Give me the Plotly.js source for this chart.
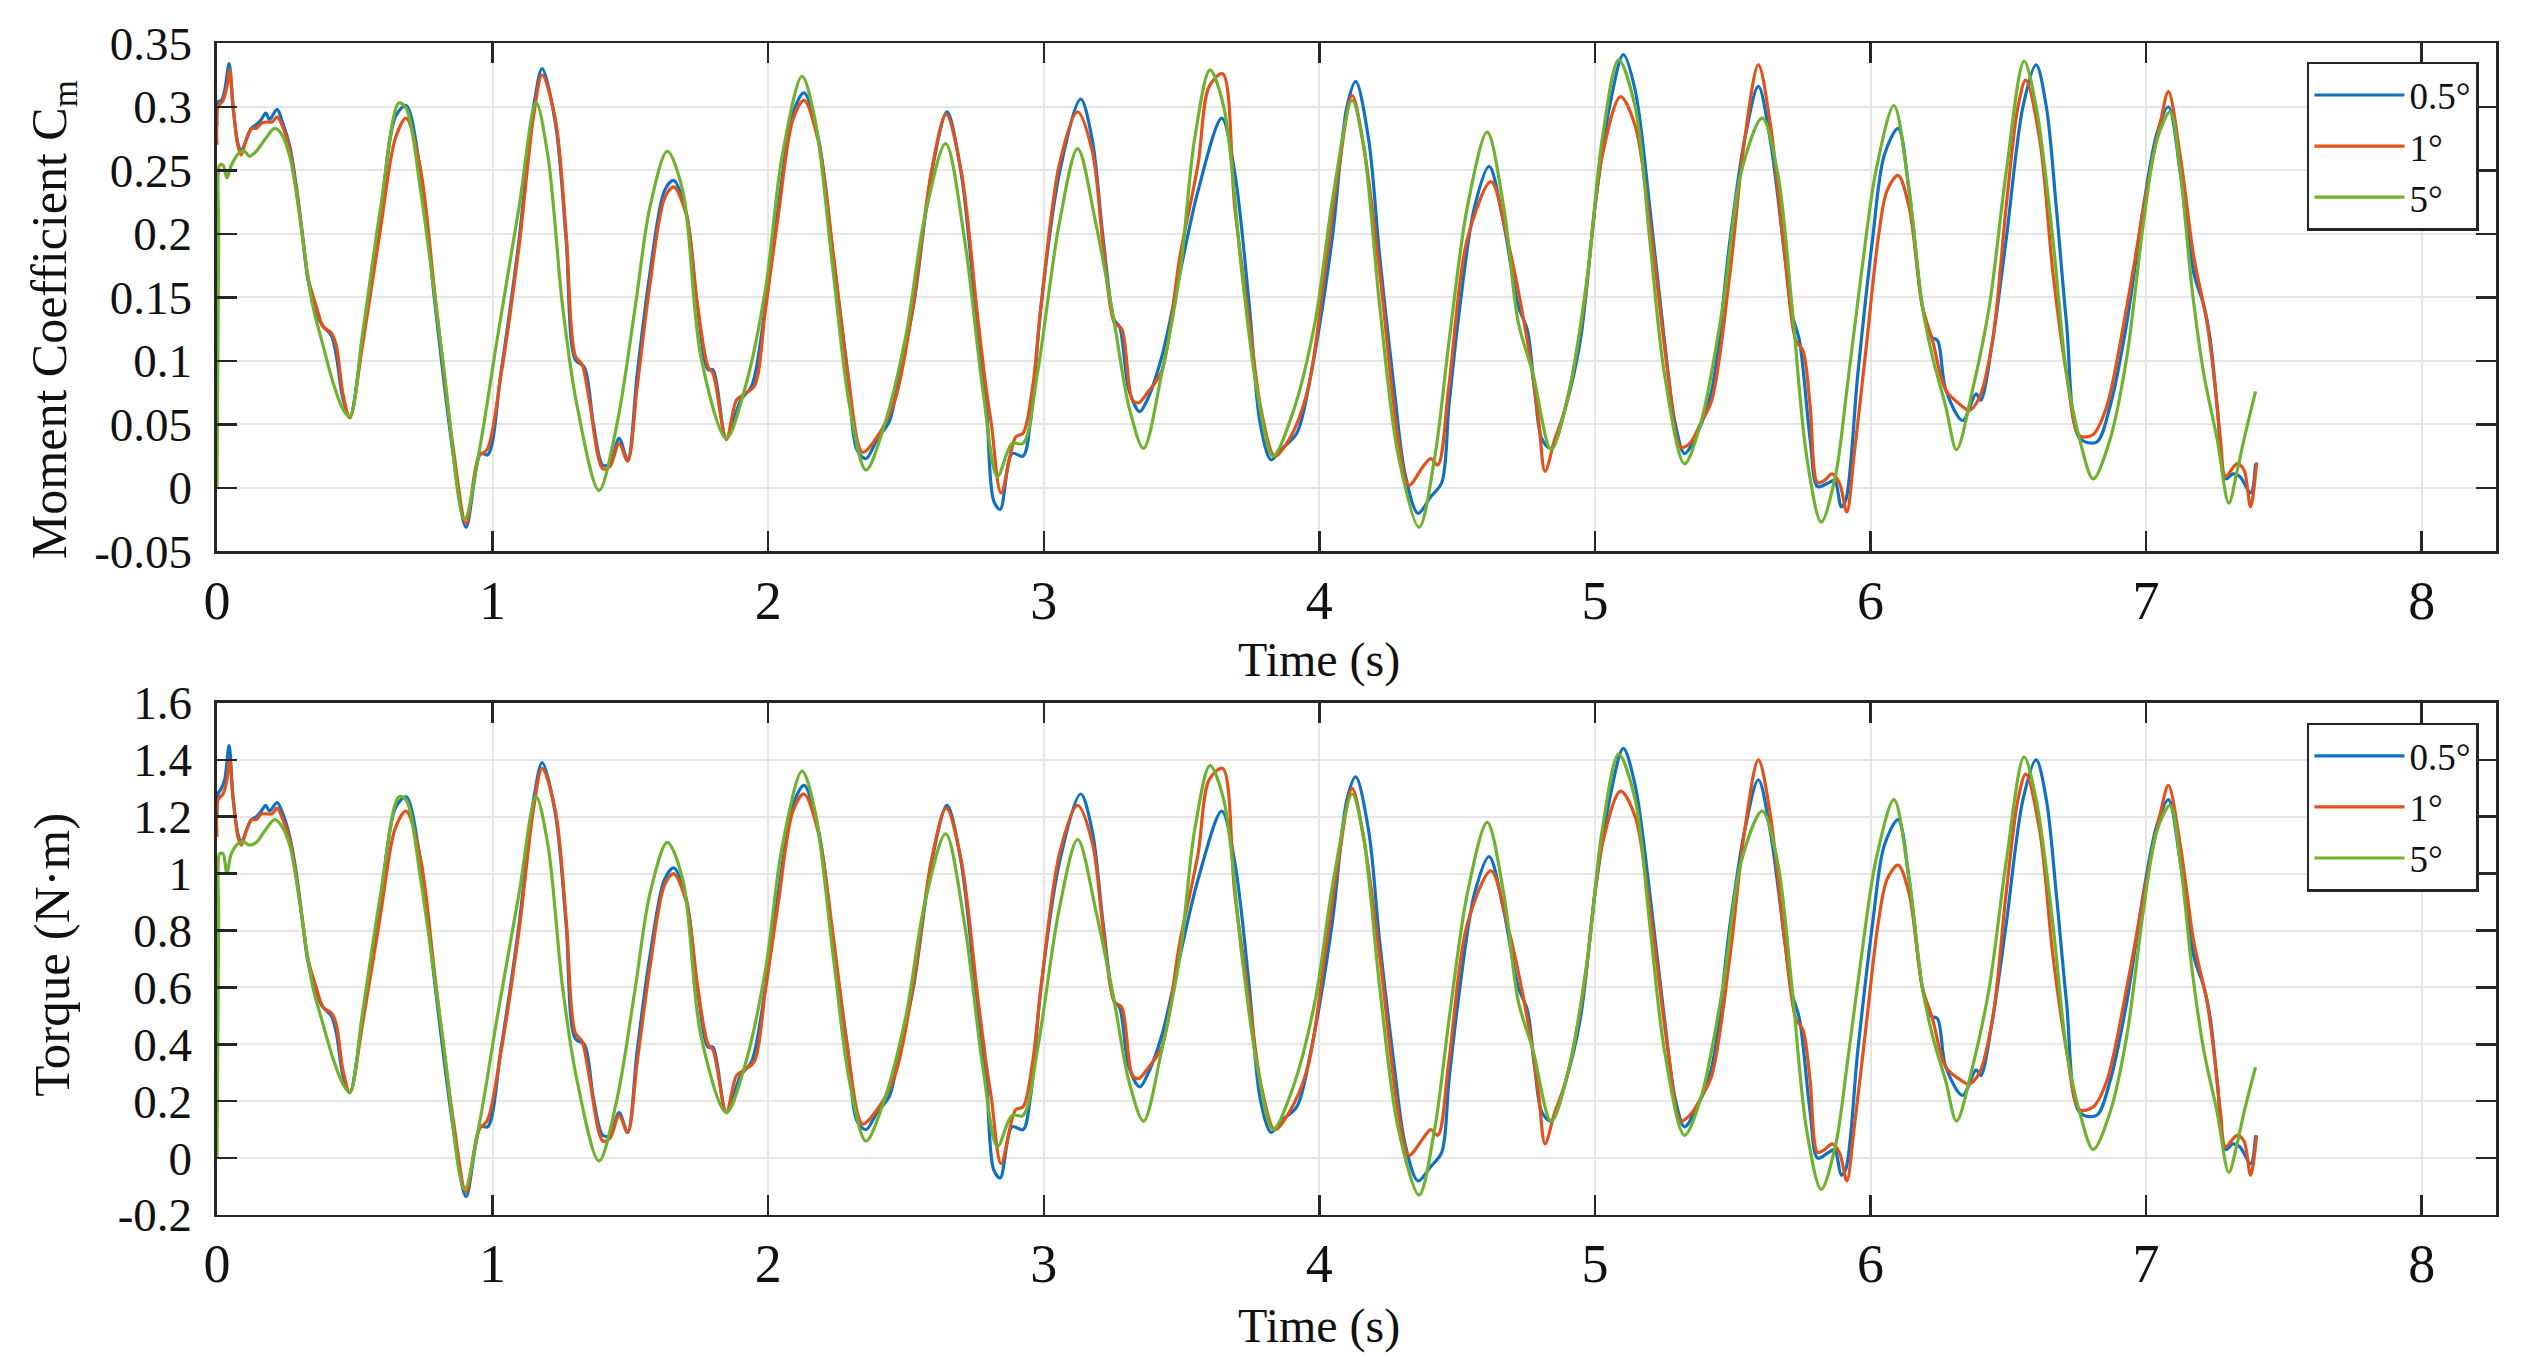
<!DOCTYPE html>
<html>
<head>
<meta charset="utf-8">
<script src="https://cdn.plot.ly/plotly-3.0.1.min.js"></script>
<style>
  html, body { margin: 0; padding: 0; background: #fff; }
  #chart { width: 2529px; height: 1356px; }
</style>
</head>
<body>
<div id="chart"></div>
<script>
// series labels (pitch amplitude)
const seriesNames = ["0.5°", "1°", "5°"];
const seriesColors = ["#1071C2", "#E2521D", "#6EB22F"];

// 0.5 deg
const tBlue = [
  0, 0.004, 0.016, 0.028, 0.044, 0.058, 0.076, 0.088, 0.106, 0.125,
  0.143, 0.161, 0.177, 0.191, 0.218, 0.239, 0.264, 0.288, 0.312, 0.330,
  0.360, 0.385, 0.415, 0.433, 0.457, 0.482, 0.528, 0.594, 0.647, 0.686,
  0.739, 0.792, 0.858, 0.904, 0.957, 0.983, 1.030, 1.096, 1.149, 1.180,
  1.228, 1.267, 1.300, 1.333, 1.366, 1.400, 1.426, 1.459, 1.490, 1.525,
  1.571, 1.624, 1.657, 1.703, 1.743, 1.782, 1.800, 1.848, 1.900, 1.940,
  1.990, 2.037, 2.090, 2.130, 2.183, 2.236, 2.289, 2.322, 2.355, 2.395,
  2.441, 2.474, 2.527, 2.593, 2.649, 2.700, 2.752, 2.792, 2.818, 2.842,
  2.885, 2.925, 2.951, 2.990, 3.057, 3.134, 3.176, 3.216, 3.256, 3.275,
  3.309, 3.348, 3.375, 3.428, 3.494, 3.560, 3.646, 3.693, 3.746, 3.785,
  3.825, 3.860, 3.918, 3.970, 4.046, 4.100, 4.132, 4.179, 4.219, 4.272,
  4.311, 4.358, 4.404, 4.444, 4.470, 4.510, 4.563, 4.616, 4.669, 4.722,
  4.755, 4.781, 4.808, 4.841, 4.894, 4.947, 5.000, 5.053, 5.103, 5.146,
  5.199, 5.252, 5.291, 5.325, 5.371, 5.424, 5.490, 5.543, 5.593, 5.636,
  5.689, 5.715, 5.742, 5.781, 5.808, 5.848, 5.870, 5.894, 5.910, 5.954,
  6.007, 6.050, 6.100, 6.140, 6.188, 6.219, 6.243, 6.273, 6.334, 6.383,
  6.400, 6.443, 6.492, 6.553, 6.601, 6.638, 6.674, 6.711, 6.759, 6.820,
  6.869, 6.930, 6.990, 7.039, 7.081, 7.124, 7.173, 7.210, 7.233, 7.258,
  7.288, 7.315, 7.340, 7.379, 7.397
];
const cmBlue = [
  0.285, 0.304, 0.305, 0.313, 0.334, 0.300, 0.271, 0.265, 0.274, 0.283,
  0.286, 0.290, 0.295, 0.290, 0.298, 0.287, 0.269, 0.237, 0.196, 0.164,
  0.138, 0.127, 0.120, 0.104, 0.070, 0.056, 0.116, 0.216, 0.292, 0.301,
  0.248, 0.143, 0.025, -0.031, 0.027, 0.026, 0.090, 0.195, 0.300, 0.330,
  0.287, 0.195, 0.101, 0.095, 0.050, 0.018, 0.019, 0.039, 0.022, 0.090,
  0.169, 0.234, 0.242, 0.216, 0.143, 0.093, 0.093, 0.039, 0.069, 0.080,
  0.143, 0.221, 0.295, 0.311, 0.274, 0.182, 0.090, 0.030, 0.023, 0.038,
  0.053, 0.088, 0.143, 0.248, 0.296, 0.248, 0.143, 0.064, -0.010, -0.017,
  0.027, 0.025, 0.051, 0.143, 0.248, 0.306, 0.274, 0.195, 0.132, 0.127,
  0.077, 0.060, 0.069, 0.103, 0.169, 0.234, 0.291, 0.248, 0.143, 0.051,
  0.022, 0.030, 0.043, 0.090, 0.195, 0.300, 0.320, 0.274, 0.182, 0.077,
  0.011, -0.020, -0.007, 0.004, 0.064, 0.143, 0.221, 0.253, 0.208, 0.143,
  0.124, 0.077, 0.038, 0.031, 0.064, 0.116, 0.221, 0.300, 0.341, 0.313,
  0.221, 0.116, 0.051, 0.027, 0.043, 0.077, 0.195, 0.274, 0.316, 0.274,
  0.182, 0.137, 0.116, 0.038, 0.001, 0.004, 0.006, -0.015, -0.010, 0.090,
  0.195, 0.262, 0.283, 0.234, 0.143, 0.119, 0.116, 0.077, 0.053, 0.074,
  0.069, 0.116, 0.195, 0.300, 0.333, 0.300, 0.221, 0.130, 0.039, 0.036,
  0.064, 0.130, 0.221, 0.279, 0.300, 0.248, 0.169, 0.143, 0.116, 0.064,
  0.007, 0.011, 0.009, -0.004, 0.019
];
const tqBlue = [
  1.20, 1.28, 1.30, 1.33, 1.45, 1.27, 1.14, 1.11, 1.15, 1.19,
  1.20, 1.22, 1.24, 1.22, 1.25, 1.21, 1.13, 1.00, 0.82, 0.69,
  0.58, 0.53, 0.50, 0.44, 0.29, 0.23, 0.49, 0.91, 1.23, 1.27,
  1.04, 0.60, 0.10, -0.135, 0.11, 0.11, 0.38, 0.82, 1.26, 1.39,
  1.21, 0.82, 0.42, 0.40, 0.21, 0.08, 0.08, 0.16, 0.09, 0.38,
  0.71, 0.98, 1.02, 0.91, 0.60, 0.39, 0.39, 0.16, 0.29, 0.34,
  0.60, 0.93, 1.24, 1.31, 1.15, 0.76, 0.38, 0.13, 0.10, 0.16,
  0.22, 0.37, 0.60, 1.04, 1.24, 1.04, 0.60, 0.27, -0.04, -0.07,
  0.11, 0.10, 0.21, 0.60, 1.04, 1.28, 1.15, 0.82, 0.55, 0.53,
  0.32, 0.25, 0.29, 0.43, 0.71, 0.98, 1.22, 1.04, 0.60, 0.21,
  0.09, 0.13, 0.18, 0.38, 0.82, 1.26, 1.34, 1.15, 0.76, 0.32,
  0.05, -0.08, -0.03, 0.02, 0.27, 0.60, 0.93, 1.06, 0.87, 0.60,
  0.52, 0.32, 0.16, 0.13, 0.27, 0.49, 0.93, 1.26, 1.44, 1.31,
  0.93, 0.49, 0.21, 0.11, 0.18, 0.32, 0.82, 1.15, 1.33, 1.15,
  0.76, 0.58, 0.49, 0.16, 0.00, 0.02, 0.03, -0.06, -0.04, 0.38,
  0.82, 1.10, 1.19, 0.98, 0.60, 0.50, 0.49, 0.32, 0.22, 0.31,
  0.29, 0.49, 0.82, 1.26, 1.40, 1.26, 0.93, 0.55, 0.16, 0.15,
  0.27, 0.55, 0.93, 1.17, 1.26, 1.04, 0.71, 0.60, 0.49, 0.27,
  0.03, 0.05, 0.04, -0.02, 0.08
];

// 1 deg
const tRed = [
  0, 0.004, 0.022, 0.036, 0.046, 0.058, 0.076, 0.088, 0.106, 0.125,
  0.143, 0.161, 0.180, 0.200, 0.218, 0.239, 0.264, 0.288, 0.312, 0.330,
  0.360, 0.385, 0.415, 0.433, 0.457, 0.482, 0.528, 0.594, 0.647, 0.686,
  0.739, 0.792, 0.858, 0.904, 0.950, 0.980, 1.030, 1.096, 1.149, 1.180,
  1.228, 1.267, 1.300, 1.325, 1.350, 1.400, 1.426, 1.459, 1.490, 1.525,
  1.571, 1.624, 1.657, 1.703, 1.743, 1.782, 1.800, 1.848, 1.885, 1.914,
  1.950, 1.990, 2.037, 2.090, 2.130, 2.183, 2.236, 2.289, 2.342, 2.395,
  2.460, 2.527, 2.593, 2.646, 2.700, 2.760, 2.790, 2.810, 2.845, 2.898,
  2.925, 2.960, 2.990, 3.057, 3.123, 3.176, 3.216, 3.256, 3.283, 3.322,
  3.345, 3.373, 3.428, 3.494, 3.560, 3.600, 3.649, 3.693, 3.746, 3.790,
  3.838, 3.890, 3.958, 4.020, 4.070, 4.119, 4.160, 4.219, 4.285, 4.325,
  4.377, 4.404, 4.430, 4.470, 4.536, 4.623, 4.683, 4.762, 4.795, 4.819,
  4.854, 4.894, 4.960, 5.026, 5.093, 5.146, 5.199, 5.265, 5.311, 5.344,
  5.384, 5.424, 5.490, 5.543, 5.593, 5.636, 5.689, 5.729, 5.755, 5.781,
  5.808, 5.834, 5.860, 5.887, 5.914, 5.940, 5.987, 6.027, 6.060, 6.100,
  6.140, 6.188, 6.225, 6.273, 6.334, 6.358, 6.395, 6.443, 6.492, 6.535,
  6.563, 6.614, 6.662, 6.711, 6.759, 6.808, 6.857, 6.930, 7.002, 7.051,
  7.081, 7.124, 7.173, 7.221, 7.245, 7.270, 7.288, 7.330, 7.355, 7.379,
  7.401
];
const cmRed = [
  0.270, 0.300, 0.305, 0.316, 0.329, 0.302, 0.269, 0.262, 0.274, 0.283,
  0.283, 0.287, 0.288, 0.288, 0.292, 0.284, 0.266, 0.235, 0.195, 0.166,
  0.143, 0.127, 0.122, 0.112, 0.074, 0.055, 0.112, 0.205, 0.275, 0.291,
  0.250, 0.150, 0.030, -0.028, 0.025, 0.030, 0.088, 0.190, 0.293, 0.325,
  0.290, 0.200, 0.104, 0.097, 0.070, 0.015, 0.017, 0.035, 0.021, 0.080,
  0.160, 0.228, 0.237, 0.215, 0.145, 0.095, 0.090, 0.038, 0.069, 0.074,
  0.080, 0.140, 0.215, 0.290, 0.305, 0.272, 0.185, 0.090, 0.028, 0.040,
  0.069, 0.145, 0.250, 0.294, 0.250, 0.135, 0.080, 0.050, -0.004, 0.040,
  0.043, 0.080, 0.143, 0.255, 0.296, 0.265, 0.190, 0.130, 0.125, 0.069,
  0.067, 0.074, 0.092, 0.182, 0.255, 0.316, 0.326, 0.221, 0.130, 0.060,
  0.025, 0.038, 0.077, 0.170, 0.250, 0.309, 0.270, 0.170, 0.040, 0.002,
  0.017, 0.023, 0.018, 0.080, 0.195, 0.241, 0.195, 0.106, 0.054, 0.013,
  0.038, 0.064, 0.143, 0.261, 0.308, 0.285, 0.209, 0.090, 0.032, 0.035,
  0.051, 0.069, 0.169, 0.274, 0.333, 0.287, 0.182, 0.116, 0.108, 0.064,
  0.004, 0.006, 0.011, 0.004, -0.019, 0.025, 0.116, 0.195, 0.234, 0.246,
  0.221, 0.143, 0.116, 0.077, 0.064, 0.061, 0.071, 0.116, 0.221, 0.300,
  0.321, 0.274, 0.169, 0.090, 0.041, 0.042, 0.064, 0.143, 0.234, 0.287,
  0.312, 0.261, 0.182, 0.130, 0.090, 0.038, 0.009, 0.019, 0.014, -0.015,
  0.020
];
const tqRed = [
  1.13, 1.26, 1.28, 1.33, 1.40, 1.27, 1.13, 1.10, 1.15, 1.19,
  1.19, 1.21, 1.21, 1.21, 1.23, 1.19, 1.12, 0.99, 0.82, 0.70,
  0.60, 0.53, 0.51, 0.47, 0.31, 0.23, 0.47, 0.86, 1.16, 1.22,
  1.05, 0.63, 0.13, -0.12, 0.10, 0.13, 0.37, 0.80, 1.23, 1.37,
  1.22, 0.84, 0.44, 0.41, 0.29, 0.06, 0.07, 0.15, 0.09, 0.34,
  0.67, 0.96, 1.00, 0.90, 0.61, 0.40, 0.38, 0.16, 0.29, 0.31,
  0.34, 0.59, 0.90, 1.22, 1.28, 1.14, 0.78, 0.38, 0.12, 0.17,
  0.29, 0.61, 1.05, 1.23, 1.05, 0.57, 0.34, 0.21, -0.02, 0.17,
  0.18, 0.34, 0.60, 1.07, 1.24, 1.11, 0.80, 0.55, 0.53, 0.29,
  0.28, 0.31, 0.39, 0.76, 1.07, 1.33, 1.37, 0.93, 0.55, 0.25,
  0.10, 0.16, 0.32, 0.71, 1.05, 1.30, 1.13, 0.71, 0.17, 0.01,
  0.07, 0.10, 0.08, 0.34, 0.82, 1.01, 0.82, 0.45, 0.23, 0.05,
  0.16, 0.27, 0.60, 1.10, 1.29, 1.20, 0.88, 0.38, 0.13, 0.15,
  0.21, 0.29, 0.71, 1.15, 1.40, 1.21, 0.76, 0.49, 0.45, 0.27,
  0.02, 0.03, 0.05, 0.02, -0.08, 0.10, 0.49, 0.82, 0.98, 1.03,
  0.93, 0.60, 0.49, 0.32, 0.27, 0.26, 0.30, 0.49, 0.93, 1.26,
  1.35, 1.15, 0.71, 0.38, 0.17, 0.18, 0.27, 0.60, 0.98, 1.21,
  1.31, 1.10, 0.76, 0.55, 0.38, 0.16, 0.04, 0.08, 0.06, -0.06,
  0.08
];

// 5 deg
const tGreen = [
  0, 0.006, 0.010, 0.022, 0.036, 0.052, 0.082, 0.100, 0.118, 0.143,
  0.173, 0.209, 0.233, 0.264, 0.300, 0.324, 0.348, 0.385, 0.421, 0.457,
  0.482, 0.528, 0.594, 0.660, 0.686, 0.739, 0.818, 0.898, 0.950, 1.016,
  1.096, 1.158, 1.201, 1.254, 1.307, 1.386, 1.452, 1.518, 1.571, 1.634,
  1.690, 1.756, 1.848, 1.914, 1.990, 2.050, 2.123, 2.170, 2.236, 2.295,
  2.355, 2.420, 2.500, 2.567, 2.644, 2.713, 2.779, 2.832, 2.885, 2.925,
  2.977, 3.057, 3.123, 3.189, 3.256, 3.309, 3.362, 3.428, 3.494, 3.547,
  3.603, 3.653, 3.719, 3.775, 3.832, 3.905, 3.984, 4.050, 4.119, 4.160,
  4.219, 4.285, 4.362, 4.418, 4.471, 4.537, 4.609, 4.669, 4.722, 4.775,
  4.841, 4.907, 4.974, 5.026, 5.086, 5.146, 5.199, 5.252, 5.325, 5.384,
  5.464, 5.530, 5.607, 5.663, 5.715, 5.768, 5.821, 5.874, 5.914, 5.967,
  6.020, 6.085, 6.140, 6.188, 6.225, 6.273, 6.312, 6.370, 6.431, 6.492,
  6.557, 6.601, 6.662, 6.711, 6.759, 6.808, 6.869, 6.930, 6.990, 7.039,
  7.087, 7.124, 7.167, 7.209, 7.258, 7.300, 7.330, 7.355, 7.397
];
const cmGreen = [
  0.000, 0.200, 0.254, 0.254, 0.244, 0.254, 0.264, 0.265, 0.261, 0.265,
  0.274, 0.283, 0.279, 0.261, 0.214, 0.175, 0.143, 0.112, 0.083, 0.062,
  0.056, 0.121, 0.221, 0.303, 0.299, 0.234, 0.103, -0.025, 0.027, 0.116,
  0.221, 0.303, 0.261, 0.143, 0.064, -0.002, 0.051, 0.143, 0.221, 0.265,
  0.234, 0.103, 0.039, 0.077, 0.156, 0.260, 0.324, 0.290, 0.170, 0.065,
  0.014, 0.048, 0.120, 0.212, 0.271, 0.195, 0.077, 0.009, 0.035, 0.035,
  0.090, 0.209, 0.267, 0.208, 0.130, 0.064, 0.031, 0.090, 0.169, 0.274,
  0.329, 0.300, 0.169, 0.075, 0.025, 0.060, 0.130, 0.230, 0.305, 0.270,
  0.143, 0.027, -0.031, 0.023, 0.116, 0.221, 0.280, 0.221, 0.130, 0.090,
  0.030, 0.077, 0.169, 0.274, 0.337, 0.300, 0.195, 0.090, 0.019, 0.051,
  0.143, 0.248, 0.291, 0.248, 0.143, 0.025, -0.027, 0.011, 0.077, 0.169,
  0.250, 0.301, 0.234, 0.143, 0.103, 0.064, 0.030, 0.077, 0.143, 0.248,
  0.336, 0.300, 0.195, 0.090, 0.038, 0.007, 0.038, 0.103, 0.208, 0.274,
  0.296, 0.248, 0.156, 0.090, 0.038, -0.012, 0.013, 0.038, 0.076
];
const tqGreen = [
  0.00, 0.84, 1.07, 1.07, 1.00, 1.07, 1.11, 1.11, 1.10, 1.11,
  1.15, 1.19, 1.17, 1.10, 0.90, 0.74, 0.60, 0.47, 0.35, 0.26,
  0.23, 0.51, 0.93, 1.27, 1.26, 0.98, 0.43, -0.11, 0.11, 0.49,
  0.93, 1.27, 1.10, 0.60, 0.27, -0.01, 0.21, 0.60, 0.93, 1.11,
  0.98, 0.43, 0.16, 0.32, 0.66, 1.09, 1.36, 1.22, 0.71, 0.27,
  0.06, 0.20, 0.50, 0.89, 1.14, 0.82, 0.32, 0.04, 0.15, 0.15,
  0.38, 0.88, 1.12, 0.87, 0.55, 0.27, 0.13, 0.38, 0.71, 1.15,
  1.38, 1.26, 0.71, 0.32, 0.10, 0.25, 0.55, 0.97, 1.28, 1.13,
  0.60, 0.11, -0.13, 0.10, 0.49, 0.93, 1.18, 0.93, 0.55, 0.38,
  0.13, 0.32, 0.71, 1.15, 1.42, 1.26, 0.82, 0.38, 0.08, 0.21,
  0.60, 1.04, 1.22, 1.04, 0.60, 0.10, -0.11, 0.05, 0.32, 0.71,
  1.05, 1.26, 0.98, 0.60, 0.43, 0.27, 0.13, 0.32, 0.60, 1.04,
  1.41, 1.26, 0.82, 0.38, 0.16, 0.03, 0.16, 0.43, 0.87, 1.15,
  1.24, 1.04, 0.66, 0.38, 0.16, -0.05, 0.05, 0.16, 0.32
];

// axis ticks
const timeTicks = [0, 1, 2, 3, 4, 5, 6, 7, 8];
const cmTicks = [-0.05, 0, 0.05, 0.1, 0.15, 0.2, 0.25, 0.3, 0.35];
const cmTickText = ["-0.05", "0", "0.05", "0.1", "0.15", "0.2", "0.25", "0.3", "0.35"];
const tqTicks = [-0.2, 0, 0.2, 0.4, 0.6, 0.8, 1, 1.2, 1.4, 1.6];
const tqTickText = ["-0.2", "0", "0.2", "0.4", "0.6", "0.8", "1", "1.2", "1.4", "1.6"];

const times = [tBlue, tRed, tGreen];
const cmData = [cmBlue, cmRed, cmGreen];
const tqData = [tqBlue, tqRed, tqGreen];

const serif = "Liberation Serif, Times New Roman, serif";
const ink = "#262626";

const traces = [];
seriesNames.forEach((name, i) => {
  traces.push({
    x: times[i], y: cmData[i], name: name,
    type: "scatter", mode: "lines",
    line: { color: seriesColors[i], width: 3.2, shape: "spline", smoothing: 0.9 },
    xaxis: "x", yaxis: "y", legend: "legend"
  });
});
seriesNames.forEach((name, i) => {
  traces.push({
    x: times[i], y: tqData[i], name: name,
    type: "scatter", mode: "lines",
    line: { color: seriesColors[i], width: 3.2, shape: "spline", smoothing: 0.9 },
    xaxis: "x2", yaxis: "y2", legend: "legend2"
  });
});

function xAxis(anchor) {
  return {
    anchor: anchor, domain: [0.0858, 0.987], range: [0, 8.27],
    tickvals: timeTicks, ticks: "inside", ticklen: 20, tickwidth: 2.5, tickcolor: ink,
    showline: true, linewidth: 2.5, linecolor: ink, mirror: "ticks",
    showgrid: true, gridcolor: "#e6e6e6", gridwidth: 2, zeroline: false,
    tickfont: { family: serif, size: 54, color: "#111" }
  };
}
function yAxis(anchor, domain, range, vals, text) {
  return {
    anchor: anchor, domain: domain, range: range,
    tickvals: vals, ticktext: text, ticks: "inside", ticklen: 20, tickwidth: 2.5, tickcolor: ink,
    showline: true, linewidth: 2.5, linecolor: ink, mirror: "ticks",
    showgrid: true, gridcolor: "#e6e6e6", gridwidth: 2, zeroline: false,
    ticklabelstandoff: 13,
    tickfont: { family: serif, size: 47, color: "#111" }
  };
}
function legendBox(y) {
  return {
    x: 0.9802, xanchor: "right", y: y, yanchor: "top",
    bgcolor: "#fff", bordercolor: ink, borderwidth: 2.5,
    font: { family: serif, size: 37, color: "#111" },
    itemwidth: 90, tracegroupgap: 0
  };
}

const layout = {
  width: 2529, height: 1356,
  margin: { l: 0, r: 0, t: 0, b: 0 },
  paper_bgcolor: "#fff", plot_bgcolor: "#fff",
  showlegend: true,
  xaxis: xAxis("y"),
  yaxis: yAxis("x", [0.5934, 0.9681], [-0.05, 0.35], cmTicks, cmTickText),
  xaxis2: xAxis("y2"),
  yaxis2: yAxis("x2", [0.104, 0.4816], [-0.2, 1.6], tqTicks, tqTickText),
  legend: legendBox(0.9543),
  legend2: legendBox(0.467),
  annotations: [
    { text: "Time (s)", xref: "x", x: 4.0, yref: "paper", y: 0.513, showarrow: false,
      xanchor: "center", yanchor: "middle", font: { family: serif, size: 48, color: "#111" } },
    { text: "Time (s)", xref: "x2", x: 4.0, yref: "paper", y: 0.022, showarrow: false,
      xanchor: "center", yanchor: "middle", font: { family: serif, size: 48, color: "#111" } },
    { text: "Moment Coefficient C<sub>m</sub>", xref: "paper", x: 0.021, yref: "paper", y: 0.764,
      textangle: -90, showarrow: false, xanchor: "center", yanchor: "middle",
      font: { family: serif, size: 50, color: "#111" } },
    { text: "Torque (N·m)", xref: "paper", x: 0.0206, yref: "paper", y: 0.296,
      textangle: -90, showarrow: false, xanchor: "center", yanchor: "middle",
      font: { family: serif, size: 51, color: "#111" } }
  ]
};

Plotly.newPlot("chart", traces, layout, { displayModeBar: false, staticPlot: true });
</script>
</body>
</html>
